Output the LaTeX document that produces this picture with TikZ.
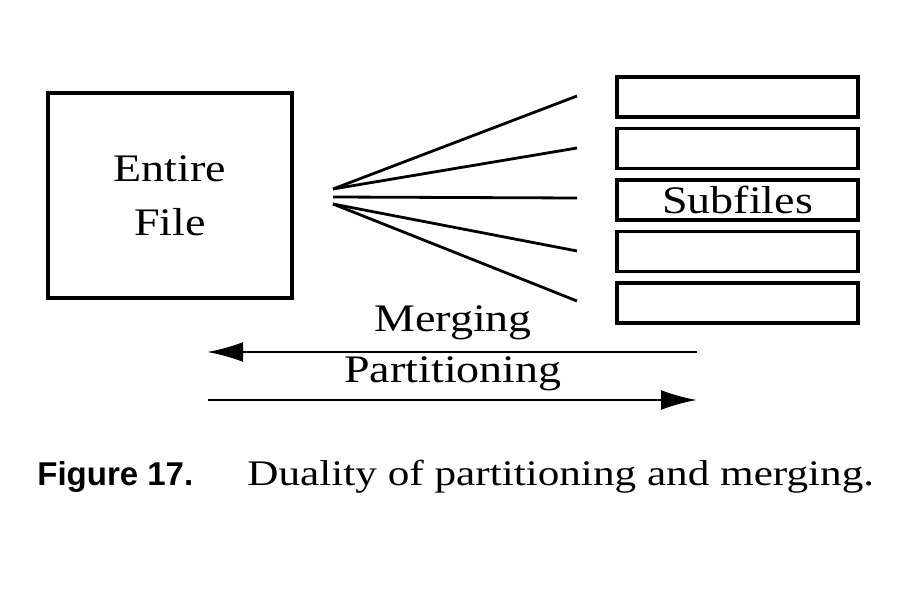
\documentclass[tikz,border=0pt]{standalone}
\usepackage{fontspec}
\setmainfont{Liberation Serif}
\setsansfont{Liberation Sans}
\newfontfamily\labelfont[FakeStretch=1.18]{Liberation Serif}
\newfontfamily\captfont[FakeStretch=1.2]{Liberation Serif}
\usetikzlibrary{arrows.meta}

\begin{document}
\begin{tikzpicture}[x=0.5pt, y=-0.5pt,
    box/.style={draw, line width=1.6pt, inner sep=0pt},
    lbl/.style={font=\labelfont\fontsize{19.5}{27}\selectfont, align=center},
    fanline/.style={line width=1.4pt},
    flow/.style={line width=1.4pt, -{Latex[length=18pt, width=10pt]}}]
  \useasboundingbox (0,0) rectangle (924,592);

  % whole file on the left
  \node[box, lbl, minimum width=122pt, minimum height=102.5pt] (entire) at (170,195.5) {Entire\\File};

  % stack of subfiles
  \foreach \i/\yy/\txt in {1/97/{}, 2/148.5/{}, 3/200/Subfiles, 4/251.5/{}, 5/303/{}} {
    \node[box, lbl, minimum width=120.5pt, minimum height=20pt] (sub\i) at (737.5,\yy) {\txt};
  }

  % fan of partition lines
  \coordinate (fanA) at (333,189);
  \coordinate (fanB) at (333,197);
  \coordinate (fanC) at (333,204);
  \foreach \i/\yy in {1/96, 2/148, 3/198, 4/251, 5/301}
    \coordinate (end\i) at (577,\yy);
  \draw[fanline] (fanA) -- (end1);
  \draw[fanline] (fanA) -- (end2);
  \draw[fanline] (fanB) -- (end3);
  \draw[fanline] (fanC) -- (end4);
  \draw[fanline] (fanC) -- (end5);

  % the two directions
  \coordinate (mergeR) at (697,352);
  \coordinate (mergeL) at (207,352);
  \coordinate (partL) at (208,400);
  \coordinate (partR) at (697,400);
  \draw[flow] (mergeR) -- (mergeL);
  \draw[flow] (partL) -- (partR);
  \node[lbl, anchor=base] (merge) at (453,332) {Merging};
  \node[lbl, anchor=base] (part) at (453,382) {Partitioning};

  % caption
  \node[anchor=base west, inner sep=0pt, font=\sffamily\bfseries\fontsize{16.5}{19}\selectfont] (figno) at (37,485) {Figure 17.};
  \node[anchor=base west, inner sep=0pt, font=\captfont\fontsize{18}{21}\selectfont] (capt) at (247,485) {Duality of partitioning and merging.};
\end{tikzpicture}
\end{document}
